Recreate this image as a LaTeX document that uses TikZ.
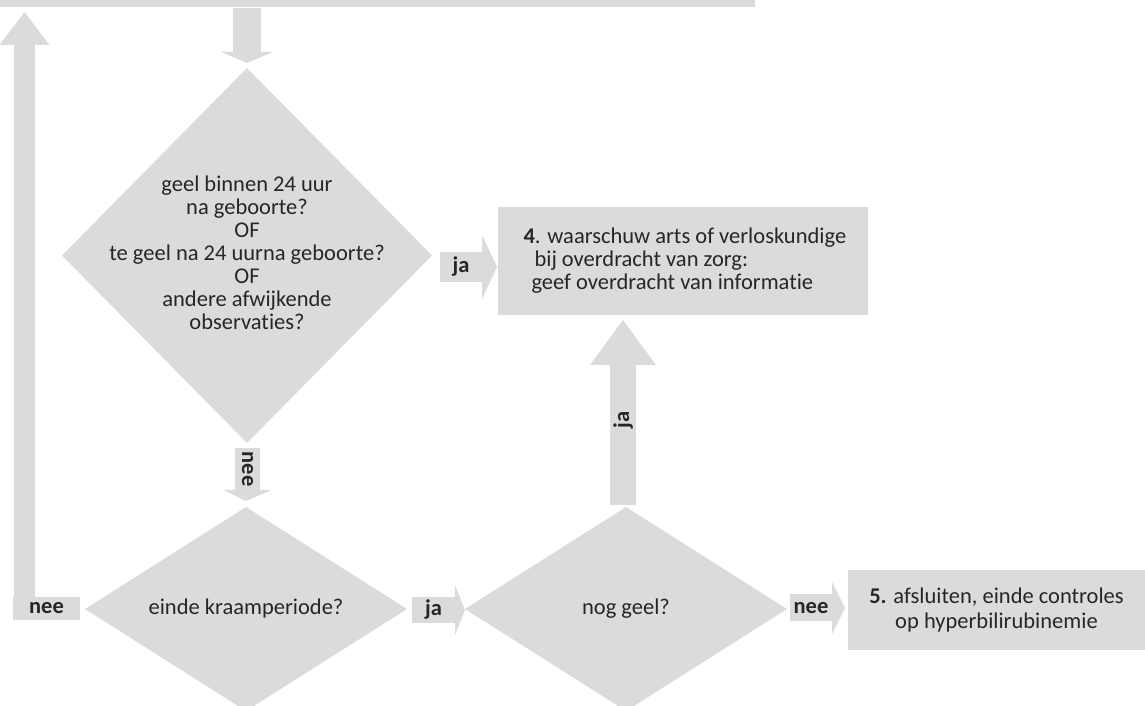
\documentclass[tikz,border=0pt]{standalone}
\usepackage{fontspec}
\setmainfont{Carlito}[Ligatures=NoCommon]
\usetikzlibrary{positioning, calc, shapes.geometric}
\definecolor{flowgray}{RGB}{219,219,219}
\definecolor{flowink}{RGB}{38,38,38}

\begin{document}
\begin{tikzpicture}[
    x=1pt, y=1pt,
    every node/.style={font=\fontsize{22.5}{23}\selectfont, text=flowink},
    decision/.style={diamond, fill=flowgray, inner sep=0pt, outer sep=0pt},
    stepbox/.style={rectangle, fill=flowgray, inner sep=0pt, outer sep=0pt},
    tag/.style={rectangle, fill=flowgray, inner sep=0pt, outer sep=0pt,
                font=\fontsize{22.5}{23}\selectfont\bfseries}
  ]

  \useasboundingbox (0,0) rectangle (1145,706);

  % ============================================================
  %  Blocks and decisions
  % ============================================================

  % bottom edge of the previous step (cut off)
  \node[stepbox, minimum width=755pt, minimum height=7pt] (prev) at (377.5,702.5) {};

  % first check
  \node[decision, minimum width=370pt, minimum height=375pt] (geel) at (247,450.5) {};
  \node[align=center] (geeltext) at ($(geel)+(0,3)$)
    {geel binnen 24 uur\\ na geboorte?\\ OF\\ te geel na 24 uurna geboorte?\\
     OF\\ andere afwijkende\\ observaties?};

  % end of the maternity period
  \node[decision, minimum width=322pt, minimum height=204pt] (einde) at (246,97) {};
  \node (eindetext) at (einde) {einde kraamperiode?};

  % still yellow
  \node[decision, minimum width=322pt, minimum height=204pt] (nog) at (626,97) {};
  \node (nogtext) at (nog) {nog geel?};

  % step 4
  \node[stepbox, minimum width=370pt, minimum height=108pt] (warn) at (683,445) {};
  \node[align=left, anchor=west] (warntext) at ($(warn.west)+(22,0)$)
    {\textbf{4}. waarschuw arts of verloskundige\\
     \hspace*{11pt}bij overdracht van zorg:\\
     \hspace*{8pt}geef overdracht van informatie};

  % step 5
  \node[stepbox, minimum width=297pt, minimum height=80pt, align=center,
        font=\fontsize{22.5}{25}\selectfont] (stop) at (996.5,96)
    {\textbf{5.} afsluiten, einde controles\\ op hyperbilirubinemie};

  % ============================================================
  %  Block arrows
  % ============================================================

  % prev -> geel
  \coordinate (intop) at ($(prev.south -| geel.north)+(0,-1)$);
  \fill[flowgray] ($(intop)+(-14,0)$) rectangle ($(intop)+(14,-44)$);
  \fill[flowgray] ($(intop)+(-26,-44)$) -- ($(geel.north)+(0,5)$)
    -- ($(intop)+(26,-44)$) -- cycle;

  % geel -> warn : ja
  \node[tag, minimum width=42pt, minimum height=30pt] (jaA) at (461,439) {ja};
  \fill[flowgray] ($(jaA.east)+(0,32)$) -- ($(warn.west |- jaA.east)+(-1,0)$)
    -- ($(jaA.east)+(0,-32)$) -- cycle;

  % geel -> einde : nee
  \node[tag, rotate=-90, minimum width=42pt, minimum height=25pt] (neeA) at (247.5,237) {nee};
  \fill[flowgray] ($(neeA.east)+(-24,0)$) -- ($(einde.north)+(0,6)$)
    -- ($(neeA.east)+(24,0)$) -- cycle;

  % einde -> nog : ja
  \node[tag, minimum width=43pt, minimum height=26pt] (jaB) at (433.5,96) {ja};
  \fill[flowgray] ($(jaB.east)+(0,25)$) -- (nog.west |- jaB.east)
    -- ($(jaB.east)+(0,-25)$) -- cycle;

  % nog -> stop : nee
  \node[tag, minimum width=42pt, minimum height=27pt] (neeB) at (811,98) {nee};
  \fill[flowgray] ($(neeB.east)+(0,26)$) -- ($(stop.west |- neeB.east)+(-3,0)$)
    -- ($(neeB.east)+(0,-26)$) -- cycle;

  % nog -> warn : ja
  \node[tag, rotate=90, minimum width=140pt, minimum height=26pt] (jaC) at (623,271) {\hspace*{30pt}ja};
  \fill[flowgray] ($(jaC.east)+(-33,0)$) -- ($(jaC.east |- warn.south)+(0,-5)$)
    -- ($(jaC.east)+(33,0)$) -- cycle;

  % einde -> back to the start : nee
  \node[tag, minimum width=67pt, minimum height=23pt] (neeC) at (46.5,97.5) {nee};
  \coordinate (backtip) at ($(prev.south -| neeC.north west)+(11.5,-5)$);
  \fill[flowgray] ($(neeC.north west)+(1,0)$) rectangle ($(backtip)+(10.5,-33)$);
  \fill[flowgray] ($(backtip)+(-25,-33)$) -- (backtip)
    -- ($(backtip)+(25,-33)$) -- cycle;

\end{tikzpicture}
\end{document}
